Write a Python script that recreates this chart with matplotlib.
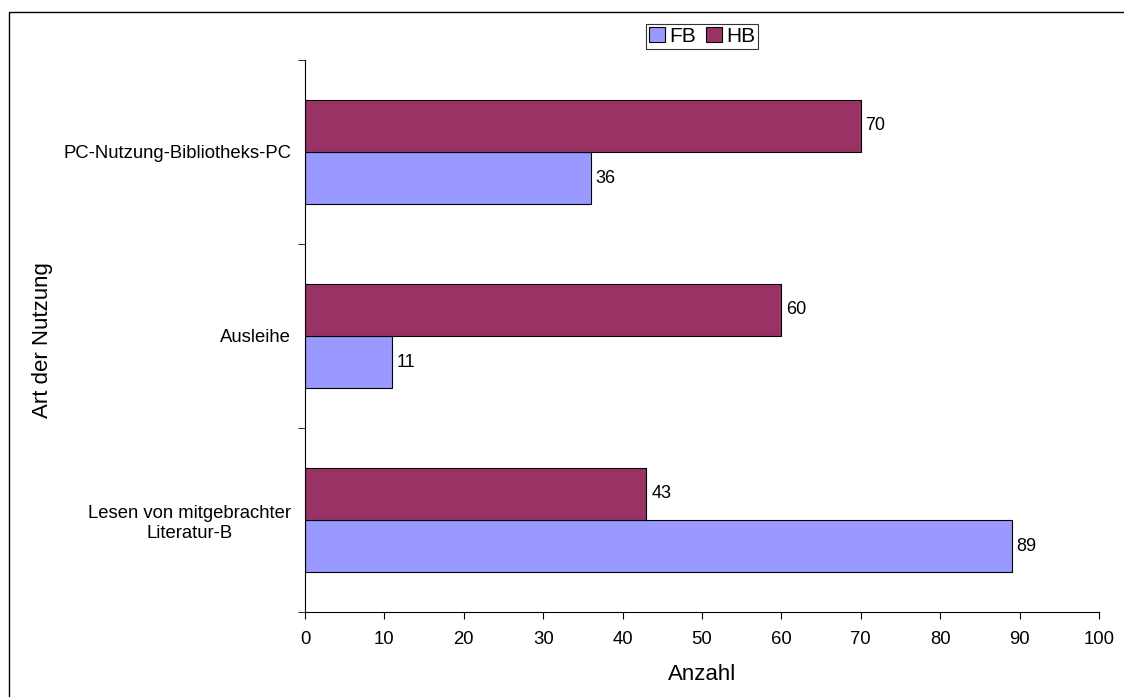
import matplotlib.pyplot as plt
from matplotlib.patches import Rectangle
import numpy as np

plt.rcParams['font.family'] = ['Liberation Sans', 'DejaVu Sans']

# bottom to top
categories = ['Lesen von mitgebrachter\nLiteratur-B', 'Ausleihe', 'PC-Nutzung-Bibliotheks-PC']
fb_values = [89, 11, 36]
hb_values = [43, 60, 70]

fb_color = '#9999FF'
hb_color = '#993366'

fig = plt.figure(figsize=(11.24, 6.97), dpi=100)
W, H = 1124, 697
ax = fig.add_axes([305 / W, 1 - 612 / H, (1099 - 305) / W, (612 - 60) / H])

y = np.arange(len(categories))
h = 0.283
fb_bars = ax.barh(y - h / 2, fb_values, height=h, color=fb_color, edgecolor='black', linewidth=0.8, label='FB')
hb_bars = ax.barh(y + h / 2, hb_values, height=h, color=hb_color, edgecolor='black', linewidth=0.8, label='HB')

for bars, vals in [(fb_bars, fb_values), (hb_bars, hb_values)]:
    for b, v in zip(bars, vals):
        ax.text(v + 0.6, b.get_y() + b.get_height() / 2, str(v), va='center', ha='left', fontsize=13)

ax.set_xlim(0, 100)
ax.set_ylim(-0.5, len(categories) - 0.5)
ax.set_xticks(range(0, 101, 10))
ax.set_yticks(y)
ax.set_yticklabels(categories, fontsize=13.3, ha='right', multialignment='center')
ax.tick_params(axis='y', length=0, pad=10)
ax.set_yticks(np.arange(-0.5, len(categories), 1), minor=True)
ax.tick_params(axis='y', which='minor', length=5, direction='out')
ax.tick_params(axis='x', length=5, direction='out', labelsize=13.3, pad=9)
ax.spines['top'].set_visible(False)
ax.spines['right'].set_visible(False)

ax.set_xlabel('Anzahl', fontsize=16, labelpad=11)
fig.text(43 / W, 1 - 340 / H, 'Art der Nutzung', rotation=90, fontsize=16, ha='center', va='center')

leg = ax.legend(loc='center', bbox_to_anchor=(702 / W, 1 - 36.5 / H), bbox_transform=fig.transFigure,
                ncol=2, fontsize=15, frameon=True, fancybox=False, edgecolor='black',
                handlelength=0.75, handleheight=0.75, handletextpad=0.2, columnspacing=0.5,
                borderpad=0.15, borderaxespad=0)
leg.get_frame().set_linewidth(0.8)

fig.patches.append(Rectangle((9 / W, -0.1), 1.2, 1 - 12 / H + 0.1, transform=fig.transFigure,
                             fill=False, edgecolor='black', linewidth=1.0))

fig.savefig('out.png', dpi=100)
